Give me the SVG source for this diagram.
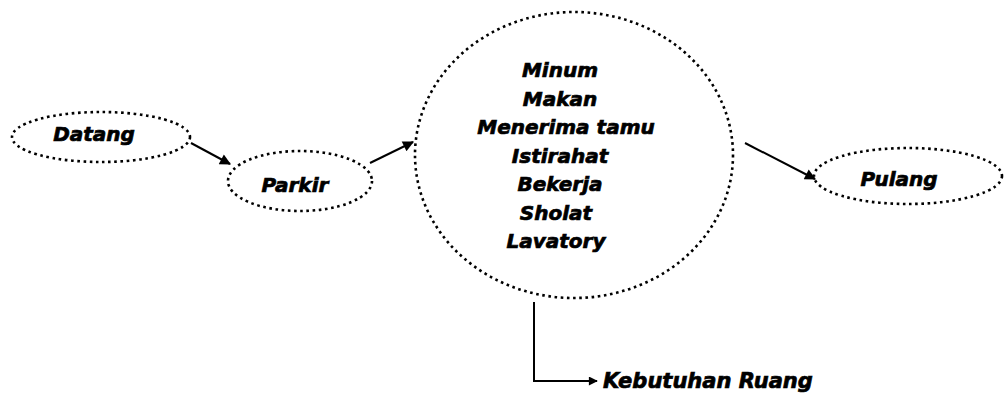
<svg xmlns="http://www.w3.org/2000/svg" width="1004" height="398" viewBox="0 0 1004 398">
<style>
.dot{fill:none;stroke:#000;stroke-width:2.6;stroke-dasharray:2.6 3.6}
.lbl{font-family:"DejaVu Sans",sans-serif;font-weight:bold;font-style:italic;font-size:20px;fill:#000;stroke:#000;stroke-width:0.7;text-anchor:middle}
.con{fill:none;stroke:#000;stroke-width:2}
</style>
<defs>
<marker id="ah" viewBox="0 0 10 10" refX="9" refY="5" markerWidth="15" markerHeight="11" markerUnits="userSpaceOnUse" orient="auto">
<path d="M0,0 L10,5 L0,10 z" fill="#000"/>
</marker>
<marker id="ahs" viewBox="0 0 10 10" refX="9" refY="5" markerWidth="12" markerHeight="9" markerUnits="userSpaceOnUse" orient="auto">
<path d="M0,0 L10,5 L0,10 z" fill="#000"/>
</marker>
</defs>
<rect width="1004" height="398" fill="#fff"/>
<g id="datang">
<ellipse class="dot" cx="101" cy="137" rx="89" ry="25"/>
<text class="lbl" x="94" y="141">Datang</text>
</g>
<g id="parkir">
<ellipse class="dot" cx="300" cy="181" rx="72" ry="30"/>
<text class="lbl" x="295" y="192">Parkir</text>
</g>
<g id="aktivitas">
<ellipse class="dot" cx="574" cy="155" rx="159" ry="143"/>
<text class="lbl" x="560" y="77">Minum</text>
<text class="lbl" x="560" y="105.5">Makan</text>
<text class="lbl" x="566" y="134">Menerima tamu</text>
<text class="lbl" x="560" y="162.5">Istirahat</text>
<text class="lbl" x="560" y="191">Bekerja</text>
<text class="lbl" x="556" y="219.5">Sholat</text>
<text class="lbl" x="556" y="248">Lavatory</text>
</g>
<g id="pulang">
<ellipse class="dot" cx="908" cy="176" rx="94" ry="28"/>
<text class="lbl" x="899" y="186">Pulang</text>
</g>
<g id="kebutuhan">
<text class="lbl" x="603" y="388" style="text-anchor:start;font-size:21px">Kebutuhan Ruang</text>
</g>
<g id="connectors">
<line class="con" x1="191" y1="143" x2="230" y2="164" marker-end="url(#ah)"/>
<line class="con" x1="370" y1="163" x2="413" y2="142" marker-end="url(#ah)"/>
<line class="con" x1="745" y1="143" x2="815" y2="179" marker-end="url(#ah)"/>
<polyline class="con" points="534,302 534,381 597,381" marker-end="url(#ahs)"/>
</g>
</svg>
